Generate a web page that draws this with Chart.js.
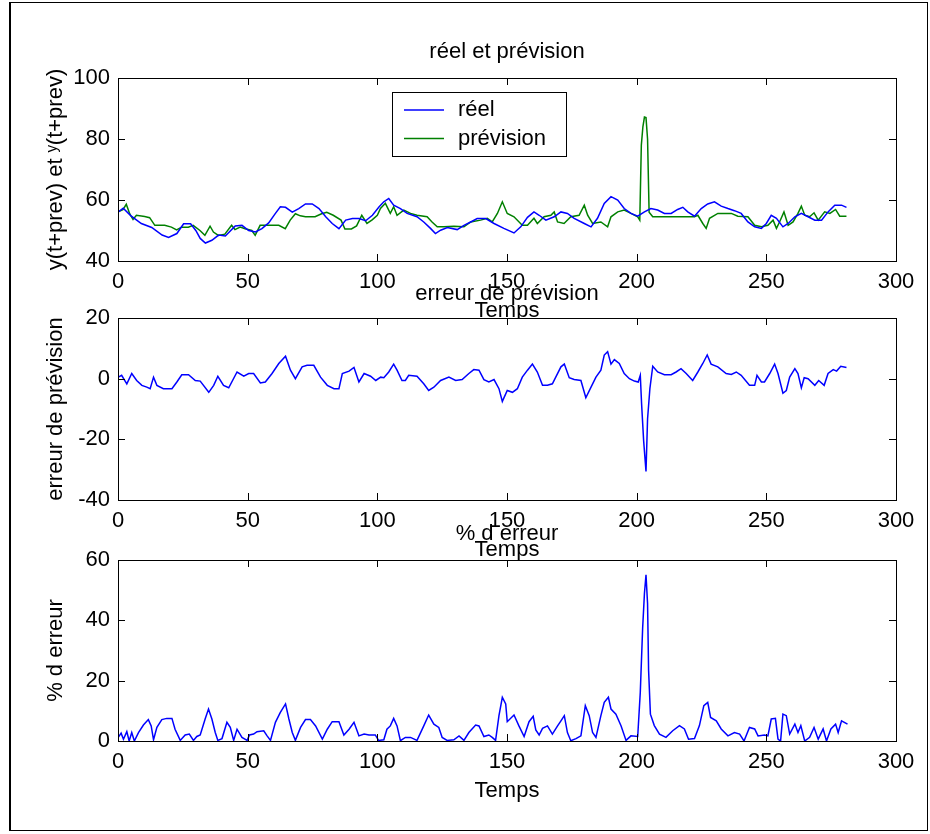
<!DOCTYPE html>
<html><head><meta charset="utf-8">
<script src="https://cdn.jsdelivr.net/npm/chart.js@4"></script>
<style>
html,body{margin:0;padding:0;background:#fff;overflow:hidden;width:930px;height:834px}
#frame{position:absolute;left:9px;top:2px;width:919px;height:829px;border:1px solid #000;border-left:2px solid #000;box-sizing:border-box}
canvas{position:absolute;left:0;top:0}
</style></head><body>
<div id="frame"></div>
<canvas id="c1" width="930" height="834"></canvas>
<canvas id="c2" width="930" height="834"></canvas>
<canvas id="c3" width="930" height="834"></canvas>
<script>
// ---- data ----
const xTicks = [0, 50, 100, 150, 200, 250, 300];
const topYTicks = [40, 60, 80, 100];
const midYTicks = [-40, -20, 0, 20];
const botYTicks = [0, 20, 40, 60];

const titleTop = "réel et prévision";
const titleMid = "erreur de prévision";
const titleBot = "% d erreur";
const xLabel = "Temps";
const yLabelTop = "y(t+prev) et ʸ(t+prev)";
const yLabelMid = "erreur de prévision";
const yLabelBot = "% d erreur";
const seriesNames = ["réel", "prévision", "erreur", "% d erreur"];

const reelT = [0,2,5,9,13,17,19.5,22.7,25.3,28,30,31.7,33.7,36.2,38.8,41.4,45.2,47.8,50.4,53,55.5,58.1,60.7,62.6,64.6,67.2,69.7,72.3,74.9,77.5,80.1,82.6,85.2,87.8,90.4,92.9,95.5,98.1,100.7,102.5,104.4,106.3,108.9,111.5,115.3,117.9,120.5,122.4,124.4,127,130.8,133.4,136,138.5,141.8,145,148.8,152.7,155.3,157.9,160.4,162.4,165,168.2,170.8,173.3,175.9,179.8,182.4,184.9,187.5,190.1,192.7,195.2,197.8,200.4,203,205.5,208.1,210.7,213.3,215.8,217.8,219.7,222.3,224.9,227.4,230,232.6,235.2,237.7,240.3,242.9,245.5,248.1,250,251.9,253.9,256.4,258.4,261,263.5,266.1,268.7,271.3,273.8,276.4,279,280.9];
const reelV = [56,57.3,54.8,52.3,51,48.5,47.7,49,52.2,52.2,50,47.4,45.9,46.8,48.5,48.2,51.5,51.7,50,49.5,50.6,52.5,55.6,57.8,57.6,56,57.2,58.7,58.7,57.2,54.5,52.3,50.6,53.4,53.9,53.9,53.2,55,57.8,59.4,60.5,58.3,57.2,55.6,54.5,52.8,50.7,49,50.1,51,50.3,51.7,52.8,53.9,53.9,52.3,50.7,49.2,51.2,54.3,56.1,55,53.4,54.5,56.1,55.6,54,52.3,51.2,54,58.9,61.1,60,57.2,55.6,54.7,56.1,57.2,56.7,55.6,55.6,56.9,57.6,56.1,54.7,57.2,58.7,59.4,58,57.2,56.5,55.6,52.8,51.2,50.7,52.3,55,54,51.2,52.3,54.5,55.6,54.5,53.4,53.4,56.1,58.3,58.3,57.6];

const prevT = [0,1.9,3.2,4.5,5.8,7.1,10.3,12.2,14.2,18,20.6,22.6,24.5,27.1,29,31.6,33.5,35.5,36.8,38.7,41.2,43.8,45.1,47.1,49,51.6,52.9,54.8,58.1,62,64.5,66.4,68.4,70.3,72.3,76,78.5,80.5,83,86,87.5,90,92,94,96,98,100,101.2,103.1,105,106.3,107.6,110.2,112.8,115.3,119.2,121.1,123.1,125.7,129.5,133.4,136,139.8,142.4,144.3,146.3,148.2,150.1,152.7,155.9,157.9,160.4,161.7,164.3,166.9,168.2,169.5,172,174.6,177.8,179.8,181.1,183,186.2,188.8,190.1,192.7,195.2,197.8,200.4,201.2,201.8,202.4,203,203.6,204.2,204.8,206.2,210,215,222.3,223.6,225.5,226.8,228.1,231.3,236.5,239,242.9,245.5,248.1,250.6,252.6,253.9,255.1,256.8,258.4,260.3,262.2,263.5,264.8,266.7,268.4,270,272.5,274.5,276.7,278.3,280.9];
const prevV = [56.1,56.8,58.6,55.5,53.6,55,54.6,54.2,51.7,51.7,51.1,50.2,51.1,51.1,51.7,50,48.4,51.4,49.5,48.4,48.8,51.7,50.3,51.1,50.6,50,48.4,51.7,51.7,51.7,50.6,53.4,55.5,54.8,54.5,54.5,55.5,56,55,53.4,50.5,50.5,51.5,55,52.3,53.5,55,57.2,58.9,55.6,57.8,55,56.7,55.6,55,54.5,52.8,51.2,51.2,51.4,51.2,52.8,53.4,54,52.8,55.6,59.4,55.6,54.5,51.7,51.7,54,52.3,54.5,55,56.1,52.8,52.3,54.5,55,58.3,55,52.3,52.8,51.2,54.5,56.1,56.7,55.6,54.5,53.4,78,84,87.2,87,80,56,54.5,54.5,54.5,54.5,55,52.3,50.7,54,55.6,55.6,54.7,54.5,51.7,51.2,51.7,53.4,50.7,52.8,56.1,51.7,52.8,55.6,58,55,54.5,55.8,53.4,56.1,55.6,56.9,54.7,54.7];

const errT = [0.1,1.4,3.4,5.3,7.2,9.2,11.1,12.4,13.7,15,17.5,20.8,22.7,24.6,27.2,29.8,31.7,35,36.9,38.5,40.7,42.7,45.9,48.5,50.4,52.3,54.9,56.8,59.4,62,64.6,66.5,68.4,71,72.9,75.5,78.1,80.7,83.3,85.2,86.5,89.1,91,92.9,94.9,97.4,99.4,101.3,102.5,104.4,106.3,107.6,109.5,110.8,112.1,115.3,117.9,119.8,121.8,124.4,127.6,130.2,132.7,135.3,137.2,139.2,141.1,143,145,146.9,148.2,150.1,152.1,154,155.9,157.9,159.8,161.7,163.7,165.6,167.5,168.8,170.8,172.1,174,175.9,178.5,180.4,182.4,184.3,186.2,187.5,188.8,190.1,191.4,193.3,195.2,197.2,199.1,200.6,201.4,201.9,202.7,203.6,204.2,205.1,206.2,208.1,210.7,213.3,215.2,217.1,219.1,221.6,223.6,225.5,227.2,228.7,231.3,234.5,236.5,238.4,240.3,243.5,245.5,246.4,248.1,249.3,251.3,253.2,254.5,256.4,257.7,259,261,262.2,263.5,264.6,266.1,268.7,270.2,272.3,273.8,275.8,277.1,278.7,280.9];
const errV = [0.5,1.1,-1.7,1.7,-0.6,-2.2,-2.8,-3.3,0.5,-2.2,-3.3,-3.3,-1.1,1.3,1.3,-0.6,-0.8,-4.5,-2.2,0.8,-2.2,-3,2.2,0.8,1.7,1.7,-1.4,-1.1,1.7,5,7.4,2.8,0,3.9,4.4,4.4,0.5,-2.2,-3.3,-3.3,1.7,2.5,3.7,-1.1,1.7,0.8,-0.6,0.5,0.3,2.2,4.8,2.8,-0.6,-0.6,1.1,0.8,-1.7,-3.9,-2.8,-0.6,0.5,-0.6,-0.3,1.7,3,2.8,-0.3,-1.1,-0.3,-3.3,-7.5,-3.9,-4.5,-3.3,0.5,2.8,4.8,2.2,-2.2,-2.2,-1.7,0.5,3.9,4.8,0.3,-0.3,-0.6,-6.3,-2.8,0.5,2.8,7.8,8.9,4.8,6.3,5,1.7,0,-0.8,-1.1,1.1,-8.3,-20.6,-30.6,-13.3,-3.3,4.1,2.2,1.3,1.3,2.2,3.3,1.7,-0.6,2.2,5,7.8,4.8,3.9,1.7,1.4,2.2,1.1,-2.2,-2.2,1.1,-1.1,-1.1,1.7,4.8,1.7,-4.8,-3.9,0.5,3.3,1.7,-3,0.3,0,-2.2,-0.6,-2.2,1.7,3,2.5,4.1,3.7];

const pctT = [0.1,1.2,2.1,3.4,4.3,5.3,6.3,7.9,9.8,11.7,12.8,13.7,15,16.9,18.8,20.8,22,24,25.9,27.5,29.1,30.4,31.7,33.6,34.9,36.2,37.5,38.5,40.1,42,43.3,44.6,45.9,47.8,49.8,50.7,52.3,53.6,56.2,57.5,58.8,60.7,62.6,64.6,65.9,67.2,68.4,70.4,72.3,74.2,76.2,78.8,80.7,82.6,85.2,87.1,89.1,91,92.9,94.9,96.8,99.2,100.5,102.5,103.7,105,106.3,107.6,108.9,110.8,112.8,115.3,117.9,119.8,121.8,123.7,125,126.9,129.5,131.5,133.4,135.3,137.9,139.2,141.1,143,144.3,145.6,146.9,148.2,149.5,150.1,152.7,154.6,156.6,158.5,160.1,161.1,162.4,163.7,165.6,167.5,169.5,170.8,172.1,173.3,174.6,176.6,178.5,180.2,181.7,183,184.3,186.2,187.5,189.1,190.1,192,194,195.9,197.8,200.4,201.4,202.3,203,203.6,204.2,204.6,205.3,206.8,208.8,211.3,213.9,216.5,218.4,220,222.3,224.2,225.9,227.4,228.5,230.7,232.6,235.2,237.7,239.7,241.4,243.5,245.5,246.8,249.3,250.6,251.9,253.5,254.5,255.5,256.4,257.7,259,261,262.2,263.3,264.8,266.7,268.4,270,271.9,273.2,274.9,276.7,277.7,279,281.3];
const pctV = [1.2,2.6,0.6,3.1,0,2.8,0,2.8,5.3,7.1,5,0.4,4.5,7.1,7.5,7.5,3.9,0.2,2,2.3,0.2,1.5,2,7.3,10.6,7.3,2.8,0.2,0.8,6.2,4.5,0.2,3.9,1.2,0.2,2,2.3,3.1,3.4,1.7,0.2,6.2,9.5,12.3,7.3,2.8,0.2,4.5,7.1,7.1,5,0.6,3.9,6.4,6.4,2,3.9,6.2,1.7,2.3,2,2,0.2,0.4,3.9,5,7.5,5,0.1,1.2,1.2,0.2,5,8.6,5.6,4.5,1.2,0.2,0.4,1.7,0.2,2.8,5.3,5,1.5,2,1.2,0.2,8.4,14.5,12.3,6.4,8.6,5,1.5,6.4,8.2,3.7,2,4.2,5,2.3,5,6.7,8.4,2.8,0.1,0.8,1.7,11.7,8.4,2.8,1.2,8.4,12.8,14.5,10.6,8.9,5,0.2,1.7,1.5,16.2,37.3,49,55.1,45.6,23.4,8.9,5.1,2.3,1.2,3.4,5.1,4,0.6,0.8,5.1,11.7,12.8,7.8,6.7,4,1.7,2.8,2.3,0,4.5,4,1.7,2,1.7,7.3,7.5,0.6,0,8.9,8.4,2.3,5.6,2.8,5.1,0,1.2,4.5,0.6,4,0,4,5.6,2.8,6.7,5.6];

// ---- rendering ----
const FONT = '"Liberation Sans", Arial, sans-serif';
const FS = 22;
Chart.defaults.font.family = FONT;
Chart.defaults.color = '#000';

const pts = (t, v) => t.map((x, i) => ({x: x, y: v[i]}));

const matlabBox = {
  id: 'matlabBox',
  beforeDraw(chart) {
    const {ctx, chartArea: a} = chart;
    ctx.save();
    ctx.fillStyle = '#fff';
    ctx.fillRect(a.left, a.top, a.right - a.left, a.bottom - a.top);
    ctx.restore();
  },
  afterDraw(chart) {
    const {ctx, chartArea: a, scales} = chart;
    const L = 7;
    ctx.save();
    ctx.strokeStyle = '#000';
    ctx.lineWidth = 1;
    ctx.strokeRect(Math.round(a.left) + 0.5, Math.round(a.top) + 0.5, Math.round(a.right - a.left), Math.round(a.bottom - a.top));
    ctx.beginPath();
    scales.x.ticks.forEach(t => {
      const px = Math.round(scales.x.getPixelForValue(t.value)) + 0.5;
      ctx.moveTo(px, a.top); ctx.lineTo(px, a.top + L);
      ctx.moveTo(px, a.bottom); ctx.lineTo(px, a.bottom - L);
    });
    scales.y.ticks.forEach(t => {
      const py = Math.round(scales.y.getPixelForValue(t.value)) + 0.5;
      ctx.moveTo(a.left, py); ctx.lineTo(a.left + L, py);
      ctx.moveTo(a.right, py); ctx.lineTo(a.right - L, py);
    });
    ctx.stroke();
    ctx.restore();
  },
  afterLayout(chart) {
    const tb = chart.titleBlock;
    if (tb) { tb.left = chart.chartArea.left; tb.right = chart.chartArea.right; }
  }
};

const boxLegend = {
  id: 'boxLegend',
  afterDraw(chart, args, opts) {
    if (!opts.show) return;
    const {ctx, chartArea: a} = chart;
    const x0 = a.left + 274, y0 = a.top + 14, w = 174, h = 64;
    ctx.save();
    ctx.fillStyle = '#fff';
    ctx.fillRect(x0, y0, w, h);
    ctx.strokeStyle = '#000';
    ctx.lineWidth = 1;
    ctx.strokeRect(x0 + 0.5, y0 + 0.5, w, h);
    ctx.font = FS + 'px ' + FONT;
    ctx.textBaseline = 'middle';
    chart.data.datasets.forEach((ds, i) => {
      const y = y0 + 18 + i * 28.5;
      ctx.strokeStyle = ds.borderColor;
      ctx.lineWidth = 1.5;
      ctx.beginPath(); ctx.moveTo(x0 + 12, y); ctx.lineTo(x0 + 52, y); ctx.stroke();
      ctx.fillStyle = '#000';
      ctx.fillText(ds.label, x0 + 66, y);
    });
    ctx.restore();
  }
};

function makeChart(id, datasets, title, yTitle, yTicks, pad, titlePadBottom, legend) {
  return new Chart(document.getElementById(id), {
    type: 'line',
    data: {datasets: datasets},
    options: {
      responsive: false,
      animation: false,
      devicePixelRatio: 1,
      events: [],
      layout: {padding: {top: pad.top, bottom: pad.bottom, left: 0, right: 34}},
      elements: {point: {radius: 0}, line: {borderWidth: 1.5, tension: 0}},
      plugins: {
        legend: {display: false},
        tooltip: {enabled: false},
        title: {display: true, text: title, font: {size: FS, weight: 'normal'}, color: '#000', padding: {top: 0, bottom: titlePadBottom}},
        boxLegend: {show: legend}
      },
      scales: {
        x: {
          type: 'linear', min: xTicks[0], max: xTicks[xTicks.length - 1],
          afterBuildTicks: s => { s.ticks = xTicks.map(v => ({value: v})); },
          afterFit: s => { s.height = 63; },
          grid: {display: false, drawTicks: false},
          border: {display: false},
          ticks: {font: {size: FS}, color: '#000', padding: 8, maxRotation: 0, autoSkip: false},
          title: {display: true, text: xLabel, font: {size: FS}, color: '#000', padding: {top: 0, bottom: 0}}
        },
        y: {
          type: 'linear', min: yTicks[0], max: yTicks[yTicks.length - 1],
          afterBuildTicks: s => { s.ticks = yTicks.map(v => ({value: v})); },
          afterFit: s => { s.width = 118; },
          grid: {display: false, drawTicks: false},
          border: {display: false},
          ticks: {font: {size: FS}, color: '#000', padding: 8, autoSkip: false},
          title: {display: true, text: yTitle, font: {size: FS}, color: '#000', padding: {top: 43, bottom: 0}}
        }
      }
    },
    plugins: [matlabBox, boxLegend]
  });
}

makeChart('c1', [
  {label: seriesNames[0], data: pts(reelT, reelV), borderColor: '#0000ff', fill: false},
  {label: seriesNames[1], data: pts(prevT, prevV), borderColor: '#008000', fill: false}
], titleTop, yLabelTop, topYTicks, {top: 38.8, bottom: 510}, 12.8, true);

makeChart('c2', [
  {label: seriesNames[2], data: pts(errT, errV), borderColor: '#0000ff', fill: false}
], titleMid, yLabelMid, midYTicks, {top: 280.3, bottom: 271}, 11.3, false);

makeChart('c3', [
  {label: seriesNames[3], data: pts(pctT, pctV), borderColor: '#0000ff', fill: false}
], titleBot, yLabelBot, botYTicks, {top: 520.3, bottom: 30}, 13.3, false);
</script>
</body></html>
